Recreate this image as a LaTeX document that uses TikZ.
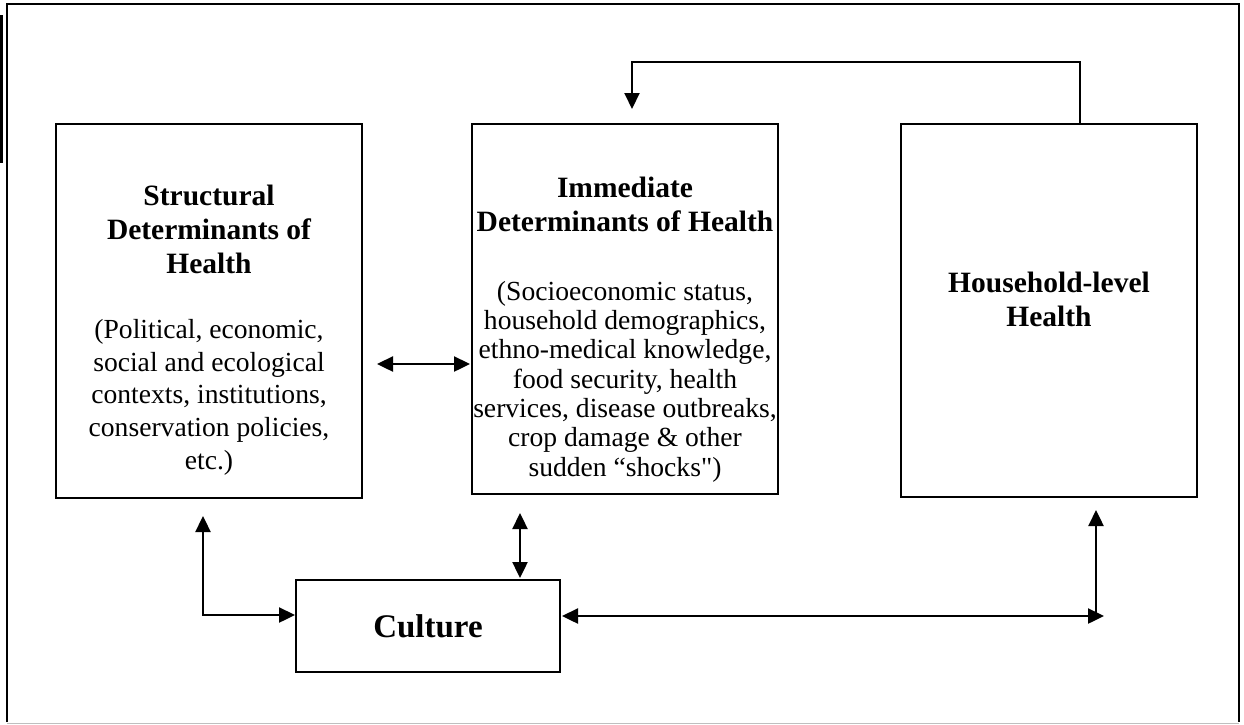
\documentclass[tikz,border=0pt]{standalone}
\usepackage{fontspec}
\setmainfont{Liberation Serif}[Ligatures=TeXOff]
\usetikzlibrary{arrows.meta,calc}
\begin{document}
\begin{tikzpicture}[x=1pt,y=-1pt,
  box/.style={draw,line width=2pt,inner sep=0pt,minimum width=#1},
  ttl/.style={align=center,inner sep=0pt,anchor=north,font=\fontsize{29.5}{34}\selectfont\bfseries},
  body/.style={align=center,inner sep=0pt,anchor=north,font=\fontsize{27.6}{30.5}\selectfont},
  arr/.style={line width=2.4pt,{Triangle[length=16pt,width=15pt]}-{Triangle[length=16pt,width=15pt]}},
  arrone/.style={line width=2.4pt,-{Triangle[length=16pt,width=15pt]}}]
\useasboundingbox (0,0) rectangle (1244,724);
% outer frame
\draw[line width=2pt] (7,722) -- (7,4) -- (1239,4) -- (1239,722);
\draw[line width=1pt,black!25] (7,723) -- (1239,723);
\draw[line width=3pt] (1.5,15) -- (1.5,163);
% boxes
\node[box=306pt,minimum height=374pt] (lbox) at (209,311) {};
\node[box=306pt,minimum height=370pt] (mbox) at (625,309) {};
\node[box=296pt,minimum height=373pt] (rbox) at (1049,310.5) {};
\node[box=264pt,minimum height=92pt,font=\fontsize{33}{38}\selectfont\bfseries] (cult) at (428,626) {Culture};
% texts
\node[ttl] (lttl) at (209,185) {Structural\\Determinants of\\Health};
\node[body,font=\fontsize{27.6}{32.7}\selectfont] (lbody) at (209,319) {(Political, economic,\\social and ecological\\contexts, institutions,\\conservation policies,\\etc.)};
\node[ttl] (mttl) at (625,177) {Immediate\\Determinants of Health};
\node[body,font=\fontsize{27.6}{29.3}\selectfont] (mbody) at (625,281) {(Socioeconomic status,\\household demographics,\\ethno-medical knowledge,\\food security, health\\services, disease outbreaks,\\crop damage \& other\\sudden “shocks")};
\node[ttl] (rttl) at (1049,272) {Household-level\\Health};
% connectors
\coordinate (fbend) at (632,109);
\draw[line width=2pt,-{Triangle[length=16pt,width=15pt]}] ([xshift=31pt]rbox.north) -- ++(0,-61) -| (fbend);
\draw[arr] ($(lbox.east)+(14,53)$) -- ($(mbox.west)+(-1,55)$);
\coordinate (lup) at (203,516);
\draw[arr] (lup) |- ($(cult.west)+(0,-11)$);
\draw[arr] ($(mbox.south)+(-105,18)$) -- ($(cult.north)+(92,-1)$);
\coordinate (rend) at (1104,616);
\coordinate (rup) at (1096,510);
\draw[arr] ($(cult.east)+(1,-10)$) -- (rend);
\draw[arrone] (1096,617) -- (rup);
\end{tikzpicture}
\end{document}
